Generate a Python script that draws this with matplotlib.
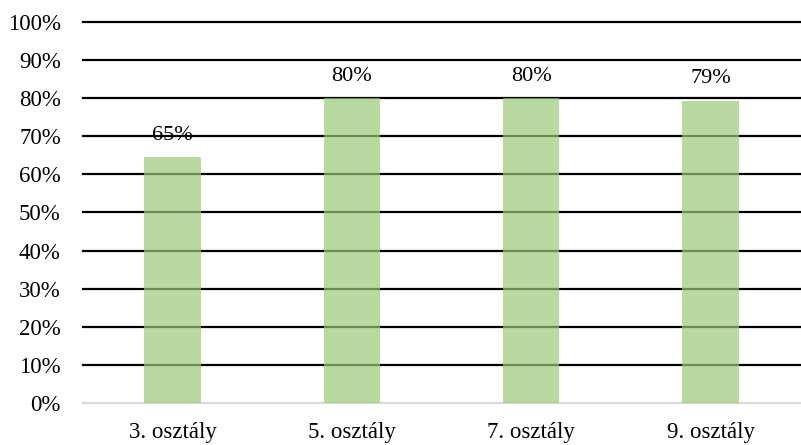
import matplotlib.pyplot as plt
from matplotlib.ticker import PercentFormatter

categories = ["3. osztály", "5. osztály", "7. osztály", "9. osztály"]
values = [64.5, 80.0, 80.0, 79.3]
labels = ["65%", "80%", "80%", "79%"]
yticks = list(range(0, 101, 10))

plt.rcParams['font.family'] = ['Liberation Serif', 'DejaVu Serif']

fig = plt.figure(figsize=(8.01, 4.45), dpi=100)
ax = fig.add_axes([0.1036, 0.0944, 0.8954, 0.8562])

# grid lines underneath translucent bars
for t in yticks[1:]:
    ax.axhline(t, color='black', lw=1.6, zorder=1, clip_on=False)
ax.axhline(0, color='#d9d9d9', lw=1.6, zorder=1, clip_on=False)

x = range(len(categories))
ax.bar(x, values, width=0.315, color='#9aca77', alpha=0.7, zorder=2)

for xi, v, lab in zip(x, values, labels):
    ax.annotate(lab, (xi, v), xytext=(0, 9), textcoords='offset points',
                ha='center', va='bottom', fontsize=16, zorder=3)

ax.set_xlim(-0.5, 3.5)
ax.set_ylim(0, 100)
ax.set_yticks(yticks)
ax.yaxis.set_major_formatter(PercentFormatter(decimals=0))
ax.set_xticks(list(x))
ax.set_xticklabels(categories)
ax.tick_params(axis='both', length=0, labelsize=16.5)
ax.tick_params(axis='y', pad=16)
ax.tick_params(axis='x', pad=14)
for s in ax.spines.values():
    s.set_visible(False)

fig.savefig('out.png', dpi=100)
